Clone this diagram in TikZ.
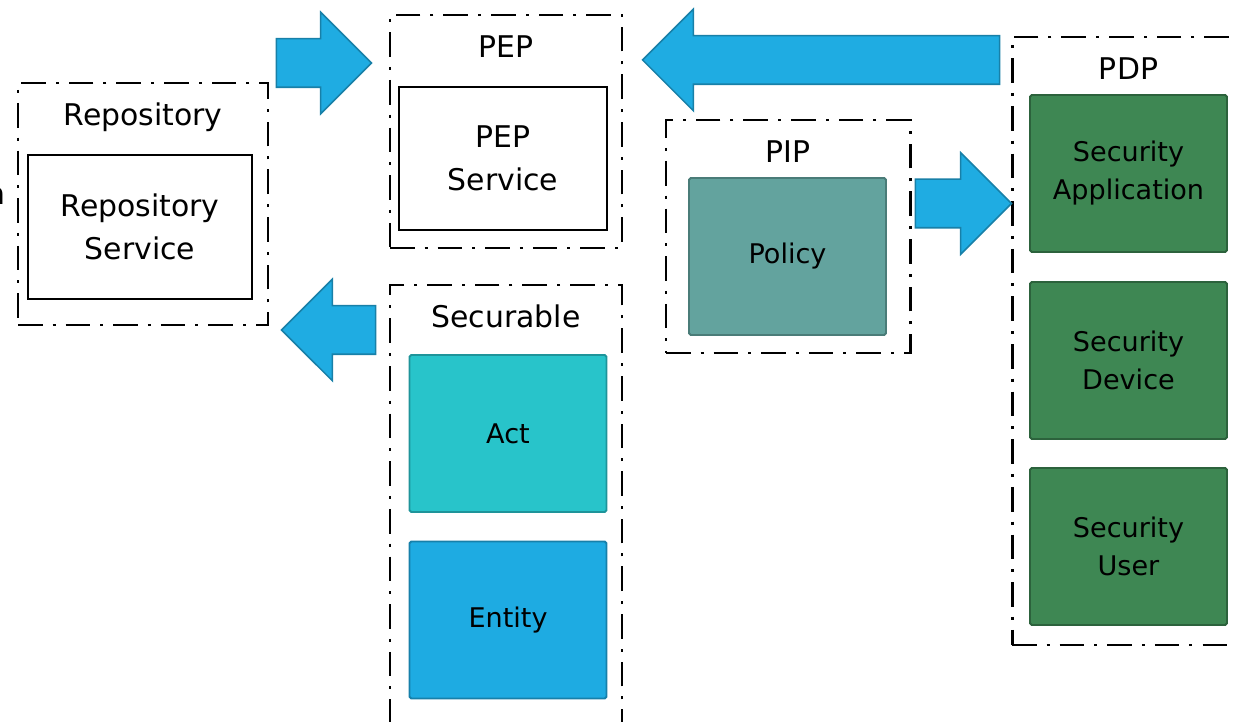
\documentclass[tikz,border=0pt]{standalone}
\usepackage{fontspec}
\setmainfont{DejaVu Sans}
\usetikzlibrary{shapes.arrows,positioning}

\definecolor{flowfill}{RGB}{31,172,226}
\definecolor{flowedge}{RGB}{24,128,168}
\definecolor{actfill}{RGB}{40,196,202}
\definecolor{actedge}{RGB}{30,148,154}
\definecolor{entityfill}{RGB}{30,171,226}
\definecolor{entityedge}{RGB}{22,128,170}
\definecolor{policyfill}{RGB}{99,163,158}
\definecolor{policyedge}{RGB}{74,124,120}
\definecolor{pdpfill}{RGB}{62,135,83}
\definecolor{pdpedge}{RGB}{44,98,60}

\tikzset{
	group/.style={draw, line width=1.7pt, dash pattern=on 14pt off 5.7pt on 1.7pt off 5.7pt},
	grouptitle/.style={anchor=base, inner sep=0, font=\fontsize{17}{20}\selectfont},
	service/.style={draw, line width=1.7pt, fill=white, align=center, font=\fontsize{17}{24.5}\selectfont},
	item/.style={draw, line width=1.1pt, rounded corners=1pt, minimum width=3.94cm, minimum height=3.14cm, align=center, font=\fontsize{15.4}{21.6}\selectfont},
	flow/.style={single arrow, draw=flowedge, fill=flowfill, line width=0.9pt, inner xsep=0pt, inner ysep=0.47cm, single arrow head extend=0.53cm, anchor=tip}
}

\begin{document}
\begin{tikzpicture}
		\useasboundingbox (0,0) rectangle (24.7,-14.44);
		% containers
		\node[group, minimum width=5cm, minimum height=4.84cm] (repo) at (2.86, -4.08) {};
		\node[group, minimum width=4.64cm, minimum height=4.66cm] (pep) at (10.12, -2.63) {};
		\node[group, minimum width=4.64cm, minimum height=9.1cm] (securable) at (10.12, -10.25) {};
		\node[group, minimum width=4.88cm, minimum height=4.66cm] (pip) at (15.76, -4.73) {};
		\node[group, minimum width=4.66cm, minimum height=12.16cm] (pdp) at (22.57, -6.82) {};
		\node[grouptitle] (repo_title) at ([yshift=-0.88cm]repo.north) {Repository};
		\node[grouptitle] (pep_title) at ([yshift=-0.88cm]pep.north) {PEP};
		\node[grouptitle] (securable_title) at ([yshift=-0.88cm]securable.north) {Securable};
		\node[grouptitle] (pip_title) at ([yshift=-0.88cm]pip.north) {PIP};
		\node[grouptitle] (pdp_title) at ([yshift=-0.88cm]pdp.north) {PDP};
		% boxes
		\node[service, minimum width=4.48cm, minimum height=2.88cm] (repo_service) at (2.8, -4.54) {Repository\\Service};
		\node[service, minimum width=4.16cm, minimum height=2.86cm] (pep_service) at (10.06, -3.17) {PEP\\Service};
		\node[item, draw=actedge, fill=actfill] (act) at (10.16, -8.67) {Act};
		\node[item, draw=entityedge, fill=entityfill] (entity) at (10.16, -12.4) {Entity};
		\node[item, draw=policyedge, fill=policyfill] (policy) at (15.75, -5.13) {Policy};
		\node[item, draw=pdpedge, fill=pdpfill] (sec_app) at (22.57, -3.47) {Security\\Application};
		\node[item, draw=pdpedge, fill=pdpfill] (sec_device) at (22.57, -7.21) {Security\\Device};
		\node[item, draw=pdpedge, fill=pdpfill] (sec_user) at (22.57, -10.93) {Security\\User};
		% cut off text at the left edge
		\node[anchor=base east, inner sep=0, font=\fontsize{17}{20}\selectfont] (cut_text) at (0.12, -4.1) {n};
		% block arrows, placed by their tips
		\node[flow, minimum height=1.9cm] (into_pep) at ([xshift=-0.32cm]pep.west |- 0,-1.26) {};
		\node[flow, minimum height=1.88cm, shape border rotate=180] (to_repo) at ([xshift=0.22cm]repo.east |- 0,-6.6) {};
		\node[flow, minimum height=7.14cm, shape border rotate=180] (pdp_to_pep) at ([xshift=0.36cm]pep.east |- 0,-1.2) {};
		\node[flow, minimum height=1.92cm] (pip_to_pdp) at ([xshift=0.04cm]pdp.west |- 0,-4.07) {};
\end{tikzpicture}
\end{document}
